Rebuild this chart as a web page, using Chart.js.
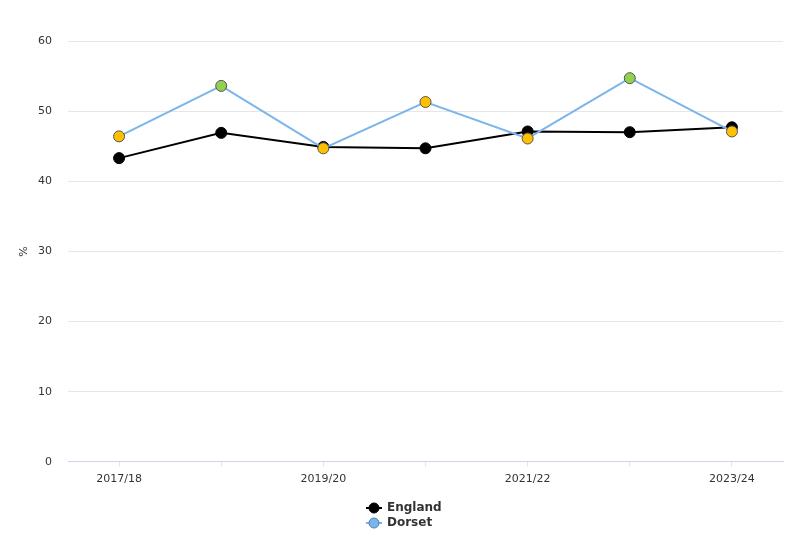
<!DOCTYPE html>
<html>
<head>
<meta charset="utf-8">
<script src="https://cdn.jsdelivr.net/npm/chart.js@4.4.1/dist/chart.umd.min.js"></script>
<style>
  html, body { margin: 0; padding: 0; background: #fff; }
  #wrap { width: 800px; height: 551px; }
</style>
</head>
<body>
<div id="wrap"><canvas id="chart" width="800" height="551"></canvas></div>
<script>
// chart data
const years = ['2017/18', '2018/19', '2019/20', '2020/21', '2021/22', '2022/23', '2023/24'];
const england = [43.3, 46.9, 44.9, 44.7, 47.1, 47.0, 47.7];
const dorset = [46.4, 53.6, 44.7, 51.3, 46.1, 54.7, 47.1];
// comparison with England: 'similar' or 'better'
const dorsetStatus = ['similar', 'better', 'similar', 'similar', 'similar', 'better', 'similar'];

const statusColours = { similar: '#ffc000', better: '#92d050' };
const font = "'DejaVu Sans', sans-serif";

// legend drawn by hand: line with marker, stacked vertically
const stackedLegend = {
  id: 'stackedLegend',
  afterDraw(chart) {
    const ctx = chart.ctx;
    const items = [
      { text: 'England', line: '#000000', fill: '#000000', border: '#000000' },
      { text: 'Dorset', line: '#7cb5ec', fill: '#7cb5ec', border: '#4a7fae' }
    ];
    ctx.save();
    ctx.font = "bold 12px " + font;
    ctx.textBaseline = 'middle';
    items.forEach((it, i) => {
      const y = 508 + i * 15;
      const x = 366;
      ctx.strokeStyle = it.line;
      ctx.lineWidth = 2;
      ctx.beginPath();
      ctx.moveTo(x, y);
      ctx.lineTo(x + 16, y);
      ctx.stroke();
      ctx.beginPath();
      ctx.arc(x + 8, y, 5, 0, Math.PI * 2);
      ctx.fillStyle = it.fill;
      ctx.fill();
      ctx.lineWidth = 1;
      ctx.strokeStyle = it.border;
      ctx.stroke();
      ctx.fillStyle = '#333333';
      ctx.fillText(it.text, x + 21, y);
    });
    ctx.restore();
  }
};

const ctx = document.getElementById('chart').getContext('2d');
new Chart(ctx, {
  type: 'line',
  data: {
    labels: years,
    datasets: [
      {
        label: 'England',
        data: england,
        borderColor: '#000000',
        backgroundColor: '#000000',
        borderWidth: 2,
        pointRadius: 5.5,
        pointBorderColor: '#000000',
        pointBackgroundColor: '#000000',
        pointBorderWidth: 1,
        tension: 0,
        order: 2
      },
      {
        label: 'Dorset',
        data: dorset,
        borderColor: '#7cb5ec',
        backgroundColor: '#7cb5ec',
        borderWidth: 2,
        pointRadius: 5.5,
        pointBorderColor: '#555555',
        pointBackgroundColor: dorsetStatus.map(s => statusColours[s]),
        pointBorderWidth: 1,
        tension: 0,
        order: 1
      }
    ]
  },
  options: {
    responsive: false,
    animation: false,
    layout: {
      padding: { top: 41, right: 17, bottom: 59, left: 18 }
    },
    scales: {
      y: {
        min: 0,
        max: 60,
        afterFit: (scale) => { scale.width = 50; },
        ticks: {
          stepSize: 10,
          color: '#333333',
          font: { family: font, size: 11 },
          padding: 16
        },
        grid: {
          color: '#e6e6e6',
          drawTicks: false
        },
        border: { display: false },
        title: {
          display: true,
          text: '%',
          color: '#333333',
          font: { family: font, size: 11 },
          padding: 0
        }
      },
      x: {
        offset: true,
        ticks: {
          color: '#333333',
          font: { family: font, size: 11 },
          autoSkip: false,
          maxRotation: 0,
          padding: 6,
          callback: (val, i) => (i % 2 === 0 ? years[i] : '')
        },
        grid: {
          display: true,
          drawOnChartArea: false,
          color: '#e6e6e6',
          tickLength: 5
        },
        border: { display: true, color: '#ccd6eb', width: 1 }
      }
    },
    plugins: {
      legend: { display: false },
      tooltip: { enabled: false }
    }
  },
  plugins: [stackedLegend]
});
</script>
</body>
</html>
